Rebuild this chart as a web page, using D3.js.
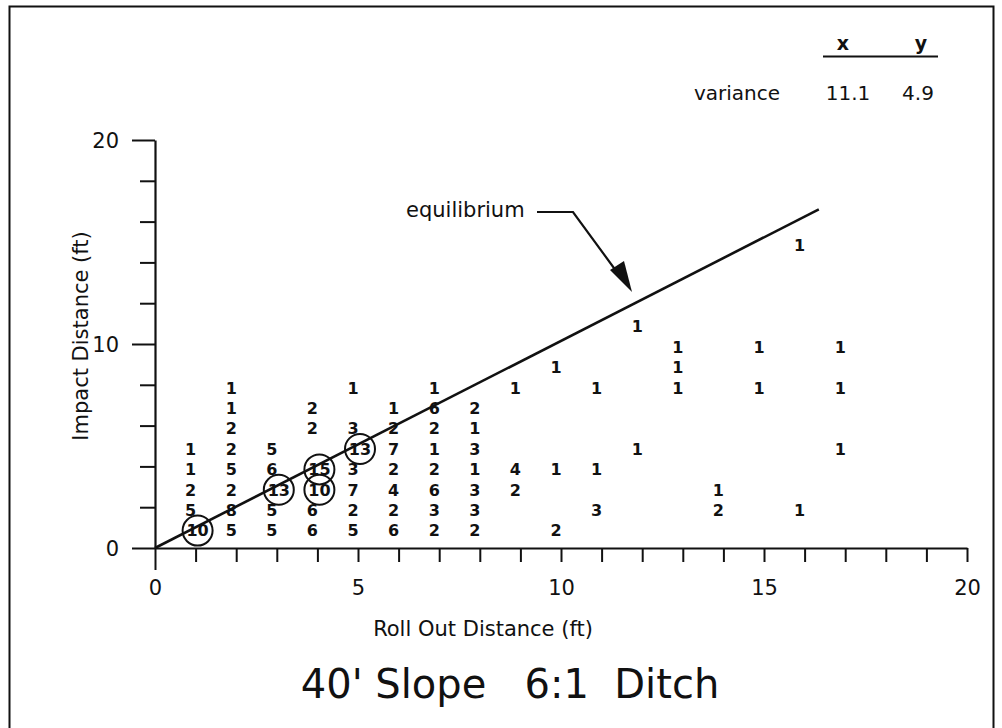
<!DOCTYPE html>
<html>
<head>
<meta charset="utf-8">
<script src="https://cdn.jsdelivr.net/npm/d3@7"></script>
<style>
  html, body { margin: 0; padding: 0; background: #fff; }
  svg { display: block; }
  text { font-family: "DejaVu Sans", "Liberation Sans", sans-serif; fill: #111; }
</style>
</head>
<body>
<svg id="chart" width="1002" height="728"></svg>
<script>
// ---- data (counts of observations per roll-out / impact cell) ----
const cellX = [1,1,1,1,1, 2,2,2,2,2,2,2,2, 3,3,3,3,3, 4,4,4,4,4,4, 5,5,5,5,5,5,5,
               6,6,6,6,6,6,6, 7,7,7,7,7,7,7,7, 8,8,8,8,8,8,8, 9,9,9, 10,10,10,
               11,11,11, 12,12, 13,13,13, 14,14, 15,15, 16,16, 17,17,17];
const cellY = [1,2,3,4,5, 1,2,3,4,5,6,7,8, 1,2,3,4,5, 1,2,3,4,6,7, 1,2,3,4,5,6,8,
               1,2,3,4,5,6,7, 1,2,3,4,5,6,7,8, 1,2,3,4,5,6,7, 3,4,8, 1,4,9,
               2,4,8, 5,11, 8,9,10, 2,3, 8,10, 2,15, 5,8,10];
const cellN = [10,5,2,1,1, 5,8,2,5,2,2,1,1, 5,5,13,6,5, 6,6,10,15,2,2, 5,2,7,3,13,3,1,
               6,2,4,2,7,2,1, 2,3,6,2,1,2,6,1, 2,3,3,1,3,1,2, 2,4,1, 2,1,1,
               3,1,1, 1,1, 1,1,1, 2,1, 1,1, 1,1, 1,1,1];
const circledMin = 10;          // counts of 10 or more are circled

const xTicks = d3.range(0, 21, 1);
const xLabels = [0, 5, 10, 15, 20];
const yTicks = d3.range(0, 21, 2);
const yLabels = [0, 10, 20];
const yMajor = [0, 10, 20];

const equilibrium = [[0, 0], [16.35, 16.6]];
const varianceHead = ["x", "y"];
const varianceVals = ["11.1", "4.9"];

// ---- layout ----
const svg = d3.select("#chart");
const x = d3.scaleLinear().domain([0, 20]).range([155, 967]);
const y = d3.scaleLinear().domain([0, 20]).range([548, 140]);

// frame
svg.append("path")
  .attr("d", "M9.5,728 L9.5,6.5 L993.5,6.5 L993.5,728")
  .attr("fill", "none").attr("stroke", "#111").attr("stroke-width", 2);

// x axis
const xAxis = d3.axisBottom(x).tickValues(xTicks).tickSize(14).tickSizeOuter(0)
  .tickFormat(d => xLabels.includes(d) ? d : "");
const gx = svg.append("g").attr("transform", `translate(0,${y(0)})`).call(xAxis);
gx.select(".domain").attr("stroke", "#111").attr("stroke-width", 2.2);
gx.selectAll(".tick line").attr("stroke", "#111").attr("stroke-width", 2)
  .attr("y2", d => d === 0 ? 22 : 14);
gx.selectAll(".tick text").attr("font-size", 21).attr("dy", 0).attr("y", 47)
  .attr("font-family", "DejaVu Sans").attr("fill", "#111");

// y axis
const yAxis = d3.axisLeft(y).tickValues(yTicks).tickSize(15).tickSizeOuter(0)
  .tickFormat(d => yLabels.includes(d) ? d : "");
const gy = svg.append("g").attr("transform", `translate(${x(0)},0)`).call(yAxis);
gy.select(".domain").attr("stroke", "#111").attr("stroke-width", 2.2);
gy.selectAll(".tick line").attr("stroke", "#111").attr("stroke-width", 2)
  .attr("x2", d => yMajor.includes(d) ? -23 : -15);
gy.selectAll(".tick text").attr("font-size", 21).attr("x", -36).attr("dy", "0.36em")
  .attr("font-family", "DejaVu Sans").attr("fill", "#111");

// axis titles
svg.append("text").attr("x", 483).attr("y", 636).attr("text-anchor", "middle")
  .attr("font-size", 21).text("Roll Out Distance (ft)");
svg.append("text").attr("transform", `translate(88,${y(10) - 8}) rotate(-90)`)
  .attr("text-anchor", "middle").attr("font-size", 21).text("Impact Distance (ft)");
svg.append("text").attr("x", 510).attr("y", 698).attr("text-anchor", "middle")
  .attr("font-size", 40).attr("xml:space", "preserve").style("white-space", "pre")
  .text("40' Slope   6:1  Ditch");

// equilibrium line
svg.append("path")
  .attr("d", d3.line().x(d => x(d[0])).y(d => y(d[1]))(equilibrium))
  .attr("fill", "none").attr("stroke", "#111").attr("stroke-width", 2.6);

// equilibrium annotation
svg.append("text").attr("x", 406).attr("y", 217).attr("font-size", 21).text("equilibrium");
svg.append("path").attr("d", "M537,212 L573,212 L622,279")
  .attr("fill", "none").attr("stroke", "#111").attr("stroke-width", 2.2);
svg.append("path").attr("d", "M632,292 L610,270 L624,261 Z").attr("fill", "#111");

// cells
const cells = cellX.map((cx, i) => ({ cx, cy: cellY[i], n: cellN[i] }));
const g = svg.append("g");
g.selectAll("circle").data(cells.filter(d => d.n >= circledMin)).join("circle")
  .attr("cx", d => x(d.cx) + 2).attr("cy", d => y(d.cy) + 3).attr("r", 15)
  .attr("fill", "none").attr("stroke", "#111").attr("stroke-width", 2);
g.selectAll("text").data(cells).join("text")
  .attr("x", d => x(d.cx) + (d.n >= 10 ? 2 : -5))
  .attr("y", d => y(d.cy) + 3)
  .attr("dy", "0.36em")
  .attr("text-anchor", "middle")
  .attr("font-family", "Liberation Sans")
  .attr("font-weight", "bold")
  .attr("font-size", 16)
  .text(d => d.n);

// variance table
svg.append("text").attr("x", 843).attr("y", 50).attr("text-anchor", "middle")
  .attr("font-size", 19).attr("font-weight", "bold").text(varianceHead[0]);
svg.append("text").attr("x", 921).attr("y", 50).attr("text-anchor", "middle")
  .attr("font-size", 19).attr("font-weight", "bold").text(varianceHead[1]);
svg.append("line").attr("x1", 823).attr("x2", 938).attr("y1", 56.5).attr("y2", 56.5)
  .attr("stroke", "#111").attr("stroke-width", 2);
svg.append("text").attr("x", 780).attr("y", 100).attr("text-anchor", "end")
  .attr("font-size", 20).text("variance");
svg.append("text").attr("x", 848).attr("y", 100).attr("text-anchor", "middle")
  .attr("font-size", 20).text(varianceVals[0]);
svg.append("text").attr("x", 918).attr("y", 100).attr("text-anchor", "middle")
  .attr("font-size", 20).text(varianceVals[1]);
</script>
</body>
</html>
